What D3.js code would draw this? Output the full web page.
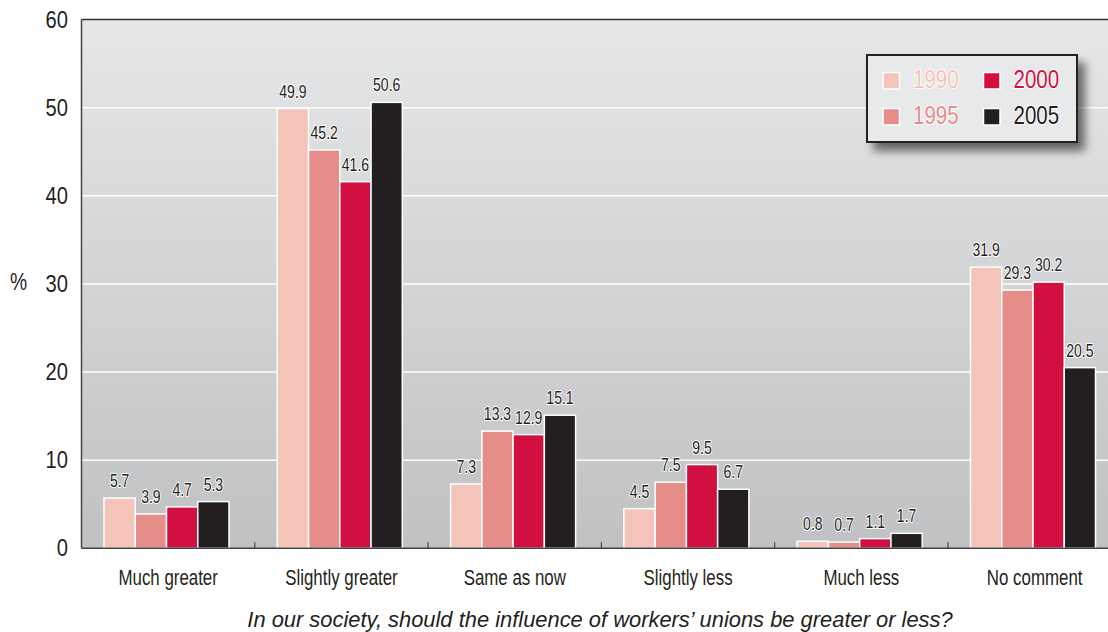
<!DOCTYPE html>
<html><head><meta charset="utf-8">
<script src="https://cdn.jsdelivr.net/npm/d3@7"></script>
<style>
body{margin:0;background:#fff;}
svg{display:block;}
text{font-family:"Liberation Sans Narrow","Liberation Sans",Arial,sans-serif;}
</style>
</head><body>
<svg id="chart" width="1108" height="632"></svg>
<script>
const categories = ["Much greater","Slightly greater","Same as now","Slightly less","Much less","No comment"];
const seriesNames = ["1990","1995","2000","2005"];
const v1990 = [5.7, 49.9, 7.3, 4.5, 0.8, 31.9];
const v1995 = [3.9, 45.2, 13.3, 7.5, 0.7, 29.3];
const v2000 = [4.7, 41.6, 12.9, 9.5, 1.1, 30.2];
const v2005 = [5.3, 50.6, 15.1, 6.7, 1.7, 20.5];
const yTicks = [0,10,20,30,40,50,60];
const colors = ["#f4c3ba","#e58d88","#d20f41","#231f20"];
const xTitle = "In our society, should the influence of workers\u2019 unions be greater or less?";
const yTitle = "%";

(function(){
const seriesVals = [v1990, v1995, v2000, v2005];
const svg = d3.select("#chart");
const pLeft = 81.5, pTop = 19.5, pBottom = 548.3, step = 173.3;
const pRight = pLeft + step*categories.length;
const SX = 0.82;

const x0 = d3.scaleBand().domain(categories).range([pLeft, pRight]).paddingInner(0).paddingOuter(0);
const x1 = d3.scaleBand().domain(seriesNames).range([22.5, 22.5+125]).padding(0);
const y = d3.scaleLinear().domain([0,60]).range([pBottom, pTop]);

const defs = svg.append("defs");
const grad = defs.append("linearGradient").attr("id","bg").attr("x1",0).attr("y1",0).attr("x2",0).attr("y2",1);
grad.append("stop").attr("offset","0%").attr("stop-color","#e6e7e9");
grad.append("stop").attr("offset","100%").attr("stop-color","#c0c1c3");
const sh = defs.append("filter").attr("id","shadow").attr("x","-20%").attr("y","-20%").attr("width","150%").attr("height","160%");
sh.append("feGaussianBlur").attr("in","SourceAlpha").attr("stdDeviation",5);
sh.append("feOffset").attr("dx",7).attr("dy",8).attr("result","ob");
sh.append("feComponentTransfer").append("feFuncA").attr("type","linear").attr("slope",0.55);
const m = sh.append("feMerge"); m.append("feMergeNode"); m.append("feMergeNode").attr("in","SourceGraphic");

svg.append("rect").attr("x",pLeft).attr("y",y(60)).attr("width",1108-pLeft).attr("height",y(0)-y(60)).attr("fill","url(#bg)");

svg.append("g").selectAll("line").data(yTicks.filter(t=>t>0&&t<60)).join("line")
  .attr("x1",pLeft).attr("x2",1108).attr("y1",d=>y(d)).attr("y2",d=>y(d))
  .attr("stroke","#ffffff").attr("stroke-width",1.5);

svg.append("line").attr("x1",pLeft).attr("x2",1108).attr("y1",y(60)).attr("y2",y(60)).attr("stroke","#333").attr("stroke-width",1.5);

const groups = svg.append("g").selectAll("g").data(categories).join("g")
  .attr("transform",d=>`translate(${x0(d)},0)`);
const rows = (c,i)=>seriesNames.map((s,j)=>({s,j,v:seriesVals[j][i]}));
groups.selectAll("rect").data(rows).join("rect")
  .attr("x",d=>x1(d.s)).attr("width",x1.bandwidth())
  .attr("y",d=>y(d.v)).attr("height",d=>y(0)-y(d.v))
  .attr("fill",d=>colors[d.j]).attr("stroke","#ffffff").attr("stroke-width",1.5);
groups.selectAll("text").data(rows).join("text")
  .attr("transform",d=>`translate(${x1(d.s)+x1.bandwidth()/2},${y(d.v)-11}) scale(0.78,1)`)
  .attr("text-anchor","middle").attr("font-size",18).attr("fill","#231f20")
  .attr("stroke","#ffffff").attr("stroke-width",2).attr("paint-order","stroke").attr("stroke-linejoin","round")
  .text(d=>d.v.toFixed(1));

const xAxis = svg.append("g").attr("transform",`translate(0,${pBottom})`);
xAxis.append("line").attr("x1",pLeft).attr("x2",1108).attr("stroke","#444").attr("stroke-width",1.5);
xAxis.selectAll("line.tk").data(categories.slice(1)).join("line").attr("class","tk")
  .attr("x1",d=>x0(d)).attr("x2",d=>x0(d)).attr("y1",0).attr("y2",-6).attr("stroke","#444").attr("stroke-width",1.2);
xAxis.selectAll("text").data(categories).join("text")
  .attr("transform",d=>`translate(${x0(d)+x0.bandwidth()/2},37) scale(0.75,1)`).attr("text-anchor","middle")
  .attr("font-size",22.5).attr("fill","#231f20").text(d=>d);

svg.append("line").attr("x1",pLeft).attr("x2",pLeft).attr("y1",y(60)).attr("y2",y(0)).attr("stroke","#444").attr("stroke-width",1.5);
svg.append("g").selectAll("text").data(yTicks).join("text")
  .attr("transform",d=>`translate(68,${y(d)}) scale(0.84,1)`).attr("dy","0.34em").attr("text-anchor","end")
  .attr("font-size",24).attr("fill","#231f20").text(d=>d);
svg.append("text").attr("transform","translate(10,290) scale(0.84,1)").attr("font-size",23).attr("fill","#231f20").text(yTitle);

svg.append("text").attr("x",600).attr("y",627).attr("text-anchor","middle")
  .attr("font-family","'Liberation Sans',Arial,sans-serif").attr("font-style","italic")
  .attr("font-size",21.9).attr("fill","#231f20").text(xTitle);

const lg = svg.append("g");
lg.append("rect").attr("x",867).attr("y",55).attr("width",210).attr("height",87)
  .attr("fill","#e8e9eb").attr("stroke","#222").attr("stroke-width",2).attr("filter","url(#shadow)");
const lpos = [[883,72.5],[883,108.5],[983.5,72.5],[983.5,108.5]];
seriesNames.forEach((s,j)=>{
  const [lx,ly] = lpos[j];
  lg.append("rect").attr("x",lx).attr("y",ly).attr("width",16.5).attr("height",16.5)
    .attr("fill",colors[j]).attr("stroke","#fff").attr("stroke-width",1.5);
  lg.append("text").attr("transform",`translate(${lx+30},${ly+15}) scale(${SX},1)`)
    .attr("font-size",25).attr("fill",colors[j])
    .attr("stroke","#fff").attr("stroke-width",2).attr("paint-order","stroke").attr("stroke-linejoin","round")
    .text(s);
});
})();
</script>
</body></html>
